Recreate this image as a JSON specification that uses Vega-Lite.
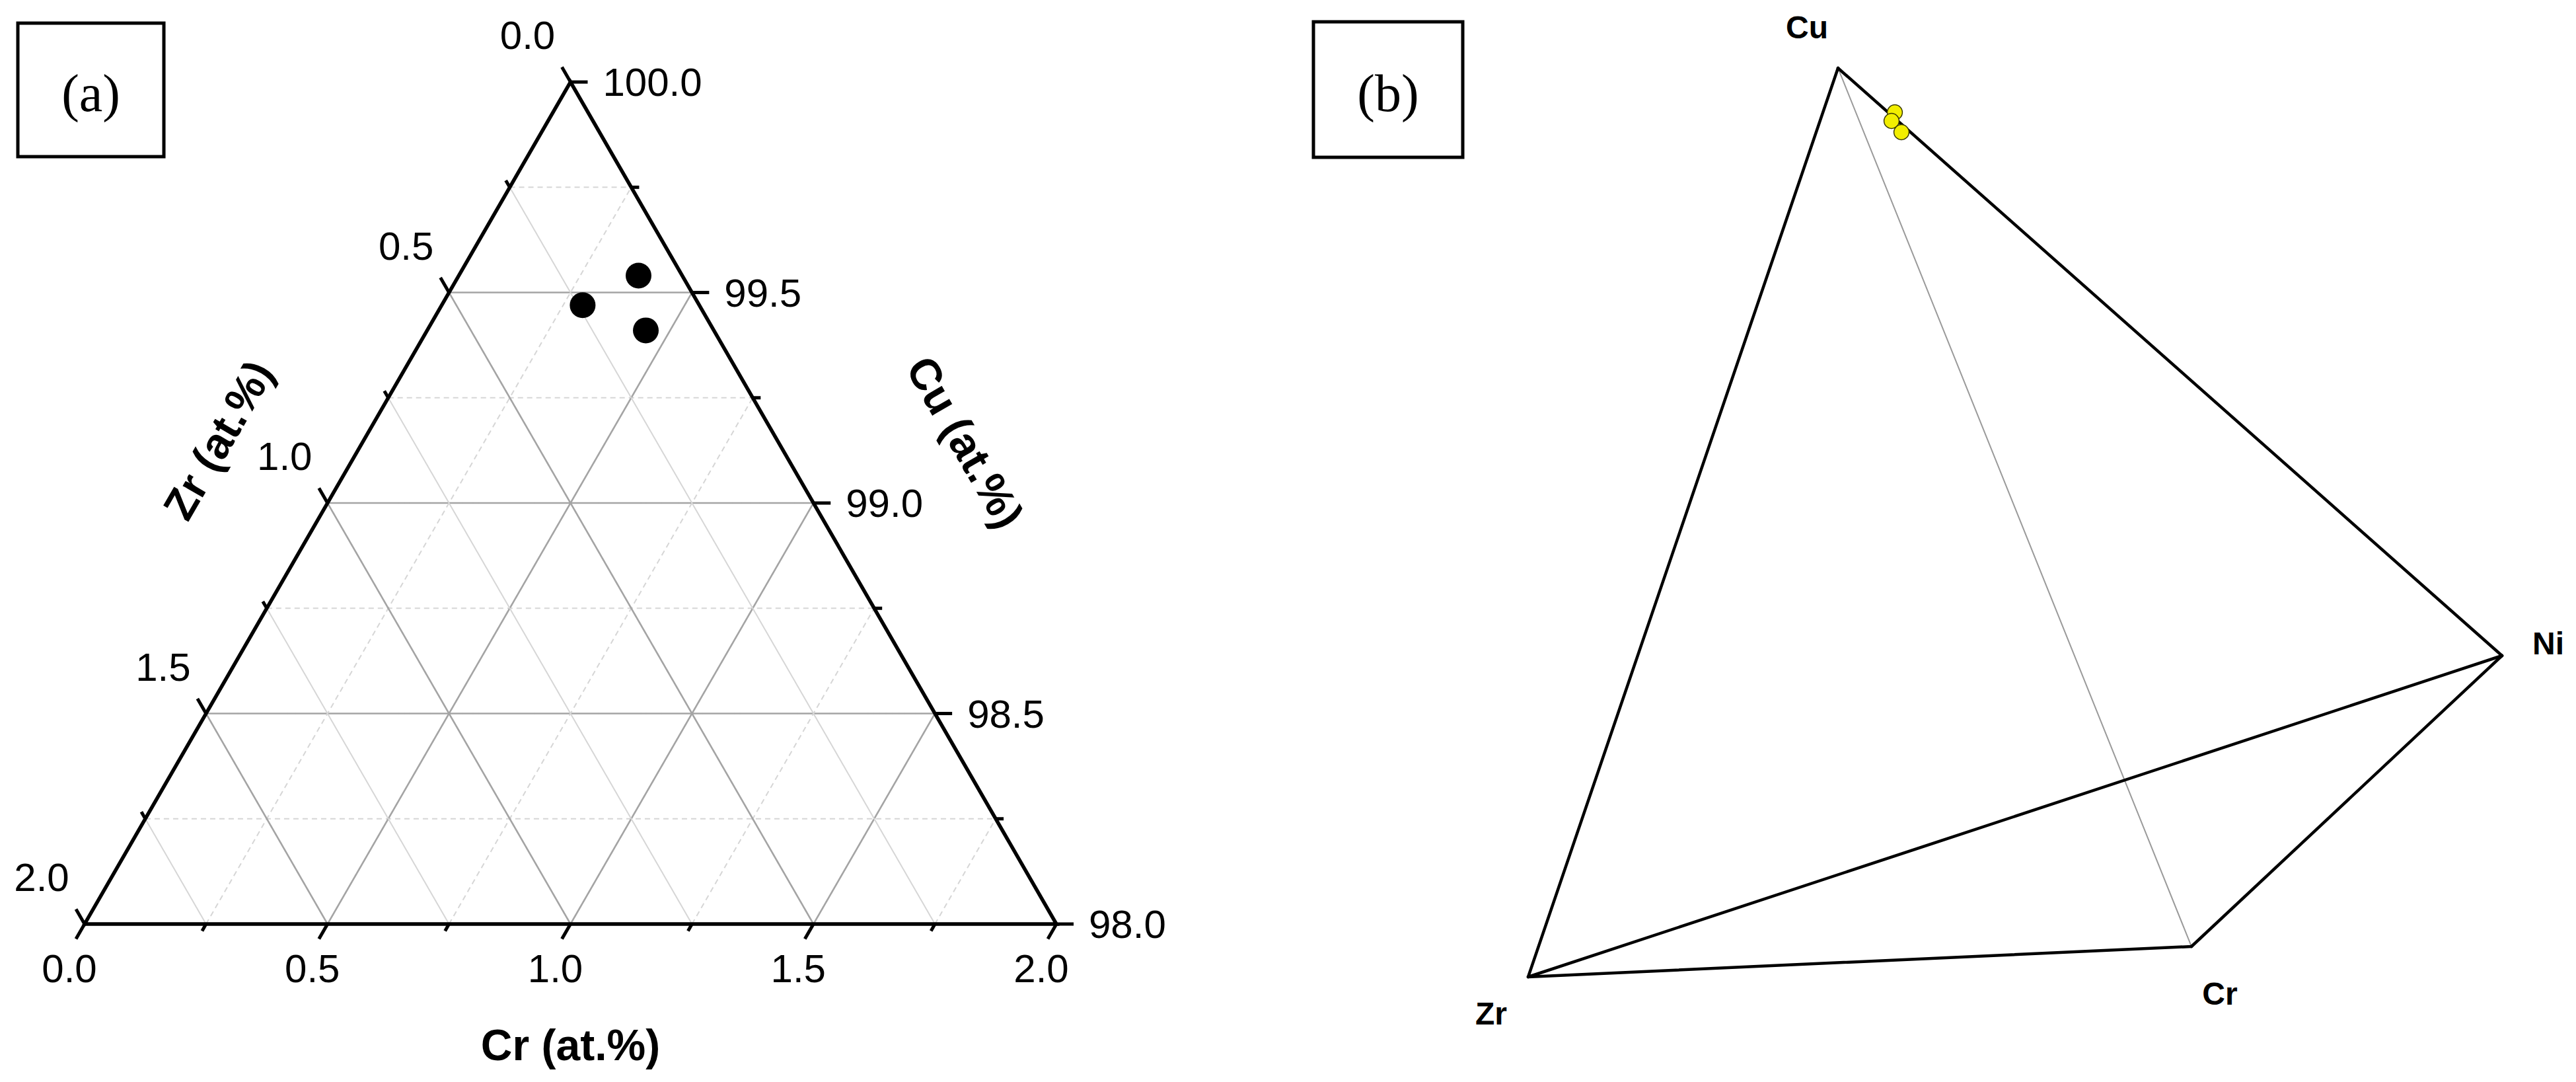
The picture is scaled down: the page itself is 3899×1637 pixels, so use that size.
{
  "$schema": "https://vega.github.io/schema/vega-lite/v6.json",
  "width": 3899,
  "height": 1637,
  "padding": 0,
  "autosize": {"type": "fit", "contains": "padding"},
  "background": "white",
  "config": {"view": {"stroke": null}, "font": "Liberation Sans"},
  "datasets": {
    "alloys": [
      {"alloy": "1", "Cr": 0.37, "Zr": 0.09, "Cu": 99.54},
      {"alloy": "2", "Cr": 0.29, "Zr": 0.24, "Cu": 99.47},
      {"alloy": "3", "Cr": 0.45, "Zr": 0.14, "Cu": 99.41}
    ],
    "ternary_grid": [
      {"family": "Cu", "value": 99.75}, {"family": "Cu", "value": 99.5}, {"family": "Cu", "value": 99.25}, {"family": "Cu", "value": 99.0},
      {"family": "Cu", "value": 98.75}, {"family": "Cu", "value": 98.5}, {"family": "Cu", "value": 98.25},
      {"family": "Cr", "value": 0.25}, {"family": "Cr", "value": 0.5}, {"family": "Cr", "value": 0.75}, {"family": "Cr", "value": 1.0},
      {"family": "Cr", "value": 1.25}, {"family": "Cr", "value": 1.5}, {"family": "Cr", "value": 1.75},
      {"family": "Zr", "value": 0.25}, {"family": "Zr", "value": 0.5}, {"family": "Zr", "value": 0.75}, {"family": "Zr", "value": 1.0},
      {"family": "Zr", "value": 1.25}, {"family": "Zr", "value": 1.5}, {"family": "Zr", "value": 1.75}
    ],
    "ternary_frame": [
      {"corner": "Zr", "cr": 0, "zr": 2, "order": 1},
      {"corner": "Cu", "cr": 0, "zr": 0, "order": 2},
      {"corner": "Cr", "cr": 2, "zr": 0, "order": 3},
      {"corner": "Zr", "cr": 0, "zr": 2, "order": 4}
    ],
    "ternary_ticks": [
      {"axis": "Cr", "value": 0.0}, {"axis": "Cr", "value": 0.25}, {"axis": "Cr", "value": 0.5}, {"axis": "Cr", "value": 0.75}, {"axis": "Cr", "value": 1.0},
      {"axis": "Cr", "value": 1.25}, {"axis": "Cr", "value": 1.5}, {"axis": "Cr", "value": 1.75}, {"axis": "Cr", "value": 2.0},
      {"axis": "Zr", "value": 0.0}, {"axis": "Zr", "value": 0.25}, {"axis": "Zr", "value": 0.5}, {"axis": "Zr", "value": 0.75}, {"axis": "Zr", "value": 1.0},
      {"axis": "Zr", "value": 1.25}, {"axis": "Zr", "value": 1.5}, {"axis": "Zr", "value": 1.75}, {"axis": "Zr", "value": 2.0},
      {"axis": "Cu", "value": 100.0}, {"axis": "Cu", "value": 99.75}, {"axis": "Cu", "value": 99.5}, {"axis": "Cu", "value": 99.25}, {"axis": "Cu", "value": 99.0},
      {"axis": "Cu", "value": 98.75}, {"axis": "Cu", "value": 98.5}, {"axis": "Cu", "value": 98.25}, {"axis": "Cu", "value": 98.0}
    ],
    "ternary_titles": [
      {"axis": "Cr", "title": "Cr (at.%)", "cr": 1, "zr": 1},
      {"axis": "Zr", "title": "Zr (at.%)", "cr": 0, "zr": 1},
      {"axis": "Cu", "title": "Cu (at.%)", "cr": 1, "zr": 0}
    ],
    "tag_a": [{"label": "(a)", "X": -0.1373, "Y": 1.8532, "X2": 0.1632, "Y2": 1.5785}],
    "tag_b": [{"label": "(b)", "bx": -32.5, "by": 144.5, "bx2": -9.9, "by2": 124.0}],
    "tetra_vertices": [
      {"name": "Cu", "bx": 46.9, "by": 137.5},
      {"name": "Ni", "bx": 147.4, "by": 48.6},
      {"name": "Cr", "bx": 100.4, "by": 4.6},
      {"name": "Zr", "bx": 0.0, "by": 0.0}
    ],
    "tetra_edges": [
      {"from": "Cu", "to": "Cr", "hidden": true},
      {"from": "Cu", "to": "Zr", "hidden": false},
      {"from": "Cu", "to": "Ni", "hidden": false},
      {"from": "Zr", "to": "Ni", "hidden": false},
      {"from": "Zr", "to": "Cr", "hidden": false},
      {"from": "Cr", "to": "Ni", "hidden": false}
    ],
    "tetra_points": [
      {"sample": "1", "bx": 55.5, "by": 130.8},
      {"sample": "2", "bx": 55.0, "by": 129.5},
      {"sample": "3", "bx": 56.5, "by": 127.8}
    ]
  },
  "resolve": {"scale": {"x": "independent", "y": "independent"}},
  "layer": [
    {
      "encoding": {
        "x": {"field": "X", "type": "quantitative", "scale": {"domain": [-0.174031, 5.127124], "nice": false, "zero": false}, "axis": null},
        "y": {"field": "Y", "type": "quantitative", "scale": {"domain": [-0.324949, 1.900748], "nice": false, "zero": false}, "axis": null}
      },
      "layer": [
        {
          "data": {"name": "ternary_grid"},
          "transform": [
            {"calculate": "datum.family == 'Cr' ? datum.value : 0", "as": "cr1"},
            {"calculate": "datum.family == 'Cu' ? 100 - datum.value : (datum.family == 'Cr' ? 2 - datum.value : datum.value)", "as": "zr1"},
            {"calculate": "datum.family == 'Cu' ? 100 - datum.value : (datum.family == 'Cr' ? datum.value : 2 - datum.value)", "as": "cr2"},
            {"calculate": "datum.family == 'Zr' ? datum.value : 0", "as": "zr2"},
            {"calculate": "1 + (datum.cr1 - datum.zr1) / 2", "as": "X"},
            {"calculate": "sqrt(3) * (1 - (datum.cr1 + datum.zr1) / 2)", "as": "Y"},
            {"calculate": "1 + (datum.cr2 - datum.zr2) / 2", "as": "X2"},
            {"calculate": "sqrt(3) * (1 - (datum.cr2 + datum.zr2) / 2)", "as": "Y2"},
            {"calculate": "abs(2 * datum.value - round(2 * datum.value)) < 0.001", "as": "major"}
          ],
          "mark": {"type": "rule"},
          "encoding": {
            "x2": {"field": "X2"},
            "y2": {"field": "Y2"},
            "color": {"condition": {"test": "datum.major", "value": "#a4a4a4"}, "value": "#d6d6d6"},
            "strokeWidth": {"condition": {"test": "datum.major", "value": 2.6}, "value": 2},
            "strokeDash": {"condition": {"test": "!datum.major && datum.family != 'Zr'", "value": [8, 6]}, "value": [1, 0]}
          }
        },
        {
          "data": {"name": "ternary_frame"},
          "transform": [
            {"calculate": "1 + (datum.cr - datum.zr) / 2", "as": "X"},
            {"calculate": "sqrt(3) * (1 - (datum.cr + datum.zr) / 2)", "as": "Y"}
          ],
          "mark": {"type": "line", "color": "black", "strokeWidth": 5.5, "strokeJoin": "miter", "strokeCap": "square"},
          "encoding": {"order": {"field": "order", "type": "quantitative"}}
        },
        {
          "data": {"name": "ternary_ticks"},
          "transform": [
            {"calculate": "datum.axis == 'Cr' ? datum.value : (datum.axis == 'Zr' ? 0 : 100 - datum.value)", "as": "cr"},
            {"calculate": "datum.axis == 'Cr' ? 2 - datum.value : (datum.axis == 'Zr' ? datum.value : 0)", "as": "zr"},
            {"calculate": "1 + (datum.cr - datum.zr) / 2", "as": "X"},
            {"calculate": "sqrt(3) * (1 - (datum.cr + datum.zr) / 2)", "as": "Y"},
            {"calculate": "(abs(2 * datum.value - round(2 * datum.value)) < 0.001 ? 26 : 12) / 735.5", "as": "len"},
            {"calculate": "datum.axis == 'Cu' ? datum.X + datum.len : datum.X - 0.5 * datum.len", "as": "X2"},
            {"calculate": "datum.axis == 'Cr' ? datum.Y - 0.866 * datum.len : (datum.axis == 'Zr' ? datum.Y + 0.866 * datum.len : datum.Y)", "as": "Y2"}
          ],
          "mark": {"type": "rule", "color": "black", "strokeWidth": 5},
          "encoding": {"x2": {"field": "X2"}, "y2": {"field": "Y2"}}
        },
        {
          "data": {"name": "ternary_ticks"},
          "transform": [
            {"filter": "datum.axis == 'Cr' && abs(2 * datum.value - round(2 * datum.value)) < 0.001"},
            {"calculate": "1 + (datum.value - (2 - datum.value)) / 2", "as": "X"},
            {"calculate": "0", "as": "Y"}
          ],
          "mark": {"type": "text", "align": "center", "baseline": "middle", "dx": -23, "dy": 70, "fontSize": 60, "font": "Liberation Sans", "color": "black"},
          "encoding": {"text": {"field": "value", "type": "quantitative", "format": ".1f"}}
        },
        {
          "data": {"name": "ternary_ticks"},
          "transform": [
            {"filter": "datum.axis == 'Zr' && abs(2 * datum.value - round(2 * datum.value)) < 0.001"},
            {"calculate": "1 - datum.value / 2", "as": "X"},
            {"calculate": "sqrt(3) * (1 - datum.value / 2)", "as": "Y"}
          ],
          "mark": {"type": "text", "align": "center", "baseline": "middle", "dx": -65, "dy": -68, "fontSize": 60, "font": "Liberation Sans", "color": "black"},
          "encoding": {"text": {"field": "value", "type": "quantitative", "format": ".1f"}}
        },
        {
          "data": {"name": "ternary_ticks"},
          "transform": [
            {"filter": "datum.axis == 'Cu' && abs(2 * datum.value - round(2 * datum.value)) < 0.001"},
            {"calculate": "1 + (100 - datum.value) / 2", "as": "X"},
            {"calculate": "sqrt(3) * (1 - (100 - datum.value) / 2)", "as": "Y"}
          ],
          "mark": {"type": "text", "align": "left", "baseline": "middle", "dx": 49, "dy": 3, "fontSize": 60, "font": "Liberation Sans", "color": "black"},
          "encoding": {"text": {"field": "value", "type": "quantitative", "format": ".1f"}}
        },
        {
          "data": {"name": "ternary_titles"},
          "transform": [
            {"filter": "datum.axis == 'Cr'"},
            {"calculate": "1 + (datum.cr - datum.zr) / 2", "as": "X"},
            {"calculate": "sqrt(3) * (1 - (datum.cr + datum.zr) / 2)", "as": "Y"}
          ],
          "mark": {"type": "text", "align": "center", "baseline": "middle", "dx": 0, "dy": 186, "fontSize": 66, "fontWeight": "bold", "font": "Liberation Sans", "color": "black"},
          "encoding": {"text": {"field": "title"}}
        },
        {
          "data": {"name": "ternary_titles"},
          "transform": [
            {"filter": "datum.axis == 'Zr'"},
            {"calculate": "1 + (datum.cr - datum.zr) / 2", "as": "X"},
            {"calculate": "sqrt(3) * (1 - (datum.cr + datum.zr) / 2)", "as": "Y"}
          ],
          "mark": {"type": "text", "align": "center", "baseline": "middle", "angle": 300, "dx": 0, "dy": -188, "fontSize": 66, "fontWeight": "bold", "font": "Liberation Sans", "color": "black"},
          "encoding": {"text": {"field": "title"}}
        },
        {
          "data": {"name": "ternary_titles"},
          "transform": [
            {"filter": "datum.axis == 'Cu'"},
            {"calculate": "1 + (datum.cr - datum.zr) / 2", "as": "X"},
            {"calculate": "sqrt(3) * (1 - (datum.cr + datum.zr) / 2)", "as": "Y"}
          ],
          "mark": {"type": "text", "align": "center", "baseline": "middle", "angle": 60, "dx": 35, "dy": -242, "fontSize": 66, "fontWeight": "bold", "font": "Liberation Sans", "color": "black"},
          "encoding": {"text": {"field": "title"}}
        },
        {
          "data": {"name": "alloys"},
          "transform": [
            {"calculate": "1 + (datum.Cr - datum.Zr) / 2", "as": "X"},
            {"calculate": "sqrt(3) * (1 - (datum.Cr + datum.Zr) / 2)", "as": "Y"}
          ],
          "mark": {"type": "circle", "size": 1520, "color": "black", "opacity": 1}
        },
        {
          "data": {"name": "tag_a"},
          "mark": {"type": "rect", "fill": null, "fillOpacity": 0, "stroke": "black", "strokeWidth": 5},
          "encoding": {"x2": {"field": "X2"}, "y2": {"field": "Y2"}}
        },
        {
          "data": {"name": "tag_a"},
          "transform": [
            {"calculate": "(datum.X + datum.X2) / 2", "as": "X"},
            {"calculate": "(datum.Y + datum.Y2) / 2", "as": "Y"}
          ],
          "mark": {"type": "text", "align": "center", "baseline": "middle", "dy": 8, "fontSize": 80, "font": "Liberation Serif", "color": "black"},
          "encoding": {"text": {"field": "label"}}
        }
      ]
    },
    {
      "encoding": {
        "x": {"field": "bx", "type": "quantitative", "scale": {"domain": [-231.3, 158.6], "nice": false, "zero": false}, "axis": null},
        "y": {"field": "by", "type": "quantitative", "scale": {"domain": [-15.9, 147.8], "nice": false, "zero": false}, "axis": null}
      },
      "layer": [
        {
          "data": {"name": "tetra_edges"},
          "transform": [
            {"lookup": "from", "from": {"data": {"name": "tetra_vertices"}, "key": "name", "fields": ["bx", "by"]}},
            {"lookup": "to", "from": {"data": {"name": "tetra_vertices"}, "key": "name", "fields": ["bx", "by"]}, "as": ["bx2", "by2"]}
          ],
          "mark": {"type": "rule", "strokeCap": "round"},
          "encoding": {
            "x2": {"field": "bx2"},
            "y2": {"field": "by2"},
            "color": {"condition": {"test": "datum.hidden", "value": "#9a9a9a"}, "value": "black"},
            "strokeWidth": {"condition": {"test": "datum.hidden", "value": 2}, "value": 4.5}
          }
        },
        {
          "data": {"name": "tetra_points"},
          "mark": {"type": "circle", "size": 520, "fill": "#f2ee00", "fillOpacity": 1, "stroke": "#3a3a00", "strokeWidth": 1.5}
        },
        {
          "data": {"name": "tetra_vertices"},
          "transform": [{"filter": "datum.name == 'Cu'"}],
          "mark": {"type": "text", "align": "center", "baseline": "middle", "dx": -47, "dy": -59, "fontSize": 48, "fontWeight": "bold", "font": "Liberation Sans", "color": "black"},
          "encoding": {"text": {"field": "name"}}
        },
        {
          "data": {"name": "tetra_vertices"},
          "transform": [{"filter": "datum.name == 'Zr'"}],
          "mark": {"type": "text", "align": "center", "baseline": "middle", "dx": -56, "dy": 58, "fontSize": 48, "fontWeight": "bold", "font": "Liberation Sans", "color": "black"},
          "encoding": {"text": {"field": "name"}}
        },
        {
          "data": {"name": "tetra_vertices"},
          "transform": [{"filter": "datum.name == 'Cr'"}],
          "mark": {"type": "text", "align": "center", "baseline": "middle", "dx": 43, "dy": 74, "fontSize": 48, "fontWeight": "bold", "font": "Liberation Sans", "color": "black"},
          "encoding": {"text": {"field": "name"}}
        },
        {
          "data": {"name": "tetra_vertices"},
          "transform": [{"filter": "datum.name == 'Ni'"}],
          "mark": {"type": "text", "align": "center", "baseline": "middle", "dx": 70, "dy": -16, "fontSize": 48, "fontWeight": "bold", "font": "Liberation Sans", "color": "black"},
          "encoding": {"text": {"field": "name"}}
        },
        {
          "data": {"name": "tag_b"},
          "mark": {"type": "rect", "fill": null, "fillOpacity": 0, "stroke": "black", "strokeWidth": 5},
          "encoding": {"x2": {"field": "bx2"}, "y2": {"field": "by2"}}
        },
        {
          "data": {"name": "tag_b"},
          "transform": [
            {"calculate": "(datum.bx + datum.bx2) / 2", "as": "bx"},
            {"calculate": "(datum.by + datum.by2) / 2", "as": "by"}
          ],
          "mark": {"type": "text", "align": "center", "baseline": "middle", "dy": 8, "fontSize": 80, "font": "Liberation Serif", "color": "black"},
          "encoding": {"text": {"field": "label"}}
        }
      ]
    }
  ]
}
